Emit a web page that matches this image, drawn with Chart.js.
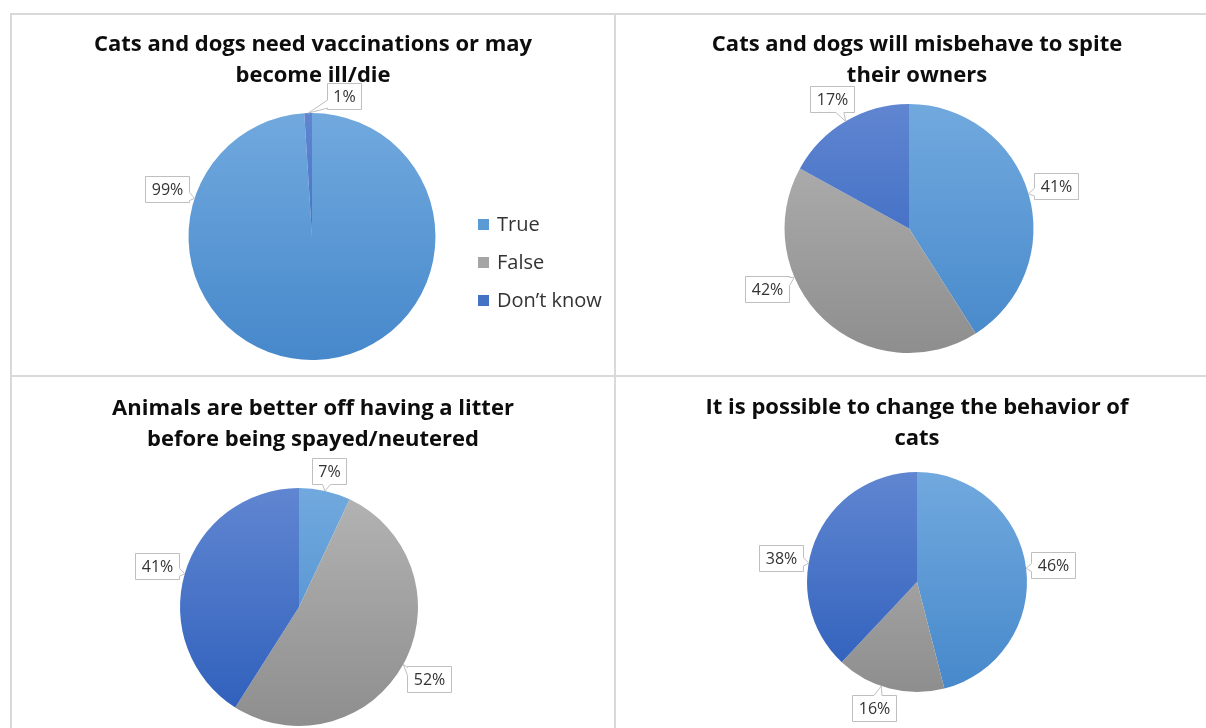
<!DOCTYPE html>
<html>
<head>
<meta charset="utf-8">
<title>Pet myths survey</title>
<script src="https://cdn.jsdelivr.net/npm/chart.js@4.4.1/dist/chart.umd.min.js"></script>
<style>
  html, body { margin: 0; padding: 0; background: #fff; }
  body { width: 1206px; height: 728px; position: relative; overflow: hidden; font-family: "Open Sans", sans-serif; }
  .panel { position: absolute; box-sizing: border-box; border: 2px solid #d9d9d9; overflow: hidden; background: #fff; }
  .panel canvas { position: absolute; left: 0; top: 0; }
  #p1 { left: 10px; top: 13px; width: 606px; height: 364px; }
  #p2 { left: 614px; top: 13px; width: 700px; height: 364px; }
  #p3 { left: 10px; top: 375px; width: 606px; height: 400px; }
  #p4 { left: 614px; top: 375px; width: 700px; height: 400px; }
  .legend { position: absolute; left: 466px; top: 190px; }
  .legend div { position: relative; height: 38px; line-height: 38px; padding-left: 19px; font-size: 20px; color: #333; white-space: nowrap; }
  .legend span { position: absolute; left: 0; top: 14px; width: 11px; height: 11px; }
</style>
</head>
<body>
<div class="panel" id="p1">
  <canvas id="chart1" width="602" height="360"></canvas>
  <div class="legend" id="legend1"></div>
</div>
<div class="panel" id="p2"><canvas id="chart2" width="602" height="360"></canvas></div>
<div class="panel" id="p3"><canvas id="chart3" width="602" height="360"></canvas></div>
<div class="panel" id="p4"><canvas id="chart4" width="602" height="360"></canvas></div>

<script>
// answers, in the order the slices run clockwise from 12 o'clock
const categories = ['True', 'False', 'Don\u2019t know'];

// percent of respondents
const vaccinations = [99, 0, 1];
const misbehave = [41, 42, 17];
const litter = [7, 52, 41];
const changeBehavior = [46, 16, 38];

const titleVaccinations = ['Cats and dogs need vaccinations or may', 'become ill/die'];
const titleMisbehave = ['Cats and dogs will misbehave to spite', 'their owners'];
const titleLitter = ['Animals are better off having a litter', 'before being spayed/neutered'];
const titleChange = ['It is possible to change the behavior of', 'cats'];

// office-style fills: [top of pie, bottom of pie]
const fills = [['#71a9de', '#4688cb'], ['#b4b4b4', '#8e8e8e'], ['#6086d1', '#2d5ebb']];
const legendColors = ['#5b9bd5', '#a5a5a5', '#4472c4'];

function sliceFill(c) {
  const area = c.chart.chartArea;
  const pair = fills[c.dataIndex];
  if (!area) return pair[0];
  const g = c.chart.ctx.createLinearGradient(0, area.top, 0, area.bottom);
  g.addColorStop(0, pair[0]);
  g.addColorStop(1, pair[1]);
  return g;
}

// excel-like data callouts (white box with a little tail pointing at the slice)
const calloutPlugin = {
  id: 'callouts',
  afterLayout(chart, args, opts) {
    const dx = opts.shiftX || 0;
    chart.chartArea.left += dx;
    chart.chartArea.right += dx;
  },
  afterDatasetsDraw(chart, args, opts) {
    const ctx = chart.ctx;
    const values = chart.data.datasets[0].data;
    const meta = chart.getDatasetMeta(0);
    ctx.save();
    ctx.font = '16px "Open Sans"';
    ctx.lineWidth = 1;
    meta.data.forEach((arc, i) => {
      if (!values[i]) return;
      const p = arc.getProps(['x', 'y', 'startAngle', 'endAngle', 'outerRadius'], true);
      const r = p.outerRadius;
      const mid = (p.startAngle + p.endAngle) / 2;
      const over = opts.angles ? opts.angles[i] : null;
      const boxAngle = over == null ? mid : (over - 90) * Math.PI / 180;

      let t = boxAngle;
      while (t < p.startAngle) t += Math.PI * 2;
      while (t >= p.startAngle + Math.PI * 2) t -= Math.PI * 2;
      const tipAngle = t <= p.endAngle ? boxAngle : mid;

      const text = values[i] + '%';
      const w = Math.round(ctx.measureText(text).width + 12);
      const h = 26;
      const ux = Math.cos(boxAngle), uy = Math.sin(boxAngle);
      const dist = r + 4 + Math.abs(ux) * w / 2 + Math.abs(uy) * h / 2;
      const cx = p.x + ux * dist, cy = p.y + uy * dist;
      const px = p.x + Math.cos(tipAngle) * r, py = p.y + Math.sin(tipAngle) * r;

      const L = Math.round(cx - w / 2) + 0.5, R = L + w;
      const T = Math.round(cy - h / 2) + 0.5, B = T + h;
      const vx = px - cx, vy = py - cy;
      let edge, ex, ey;
      if (Math.abs(vx) * h > Math.abs(vy) * w) {
        edge = vx > 0 ? 'right' : 'left';
        ey = cy + vy * (w / 2) / Math.abs(vx);
        ey = Math.min(Math.max(ey, T + 5), B - 5);
      } else {
        edge = vy > 0 ? 'bottom' : 'top';
        ex = cx + vx * (h / 2) / Math.abs(vy);
        ex = Math.min(Math.max(ex, L + 5), R - 5);
      }

      ctx.beginPath();
      ctx.moveTo(L, T);
      if (edge === 'top') { ctx.lineTo(ex - 4, T); ctx.lineTo(px, py); ctx.lineTo(ex + 4, T); }
      ctx.lineTo(R, T);
      if (edge === 'right') { ctx.lineTo(R, ey - 4); ctx.lineTo(px, py); ctx.lineTo(R, ey + 4); }
      ctx.lineTo(R, B);
      if (edge === 'bottom') { ctx.lineTo(ex + 4, B); ctx.lineTo(px, py); ctx.lineTo(ex - 4, B); }
      ctx.lineTo(L, B);
      if (edge === 'left') { ctx.lineTo(L, ey + 4); ctx.lineTo(px, py); ctx.lineTo(L, ey - 4); }
      ctx.closePath();
      ctx.fillStyle = '#ffffff';
      ctx.fill();
      ctx.strokeStyle = '#bfbfbf';
      ctx.stroke();

      ctx.fillStyle = '#333333';
      ctx.textAlign = 'center';
      ctx.textBaseline = 'middle';
      ctx.fillText(text, (L + R) / 2, (T + B) / 2 + 1);
    });
    ctx.restore();
  }
};

function pieChart(id, title, values, cfg) {
  return new Chart(document.getElementById(id), {
    type: 'pie',
    data: {
      labels: categories,
      datasets: [{
        data: values,
        backgroundColor: sliceFill,
        borderWidth: 0,
        hoverOffset: 0
      }]
    },
    options: {
      responsive: false,
      animation: false,
      events: [],
      layout: { padding: { top: 0, left: 0, right: 0, bottom: cfg.bottom } },
      plugins: {
        legend: { display: false },
        tooltip: { enabled: false },
        title: {
          display: true,
          text: title,
          color: '#0d0d0d',
          font: { family: '"Open Sans"', size: 22, weight: 'bold', lineHeight: 1.41 },
          padding: { top: cfg.titleTop, bottom: cfg.titleBottom }
        },
        callouts: { angles: cfg.angles, shiftX: cfg.shiftX }
      }
    },
    plugins: [calloutPlugin]
  });
}

pieChart('chart1', titleVaccinations, vaccinations,
  { titleTop: 14, titleBottom: 22, bottom: 15, shiftX: -1, angles: [288, null, 13] });
pieChart('chart2', titleMisbehave, misbehave,
  { titleTop: 14, titleBottom: 13, bottom: 22, shiftX: -8, angles: [null, 247, null] });
pieChart('chart3', titleLitter, litter,
  { titleTop: 16, titleBottom: 33, bottom: 11, shiftX: -14, angles: [null, null, null] });
pieChart('chart4', titleChange, changeBehavior,
  { titleTop: 15, titleBottom: 18, bottom: 45, shiftX: 0, angles: [null, 199, 280] });

// legend only sits beside the first pie
const legendBox = document.getElementById('legend1');
categories.forEach((name, i) => {
  const row = document.createElement('div');
  const sw = document.createElement('span');
  sw.style.background = legendColors[i];
  row.appendChild(sw);
  row.appendChild(document.createTextNode(name));
  legendBox.appendChild(row);
});
</script>
</body>
</html>
